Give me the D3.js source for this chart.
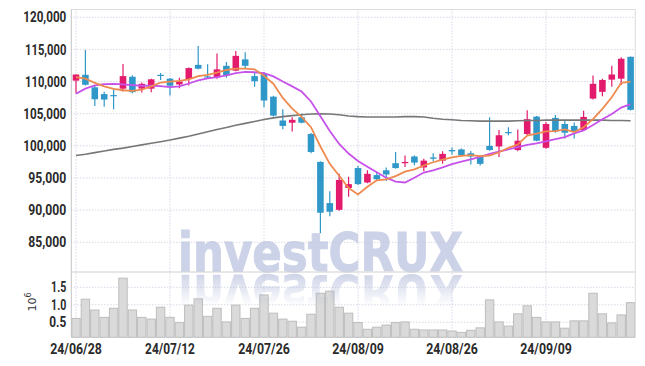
<!DOCTYPE html>
<html>
<head>
<meta charset="utf-8">
<style>
    body { margin: 0; background: #fff; }
    .lbl { font-family: "Roboto", "DejaVu Sans", sans-serif; font-weight: bold; fill: #2a2a2a; }
</style>
</head>
<body>
<div id="vis"></div>

<script src="https://d3js.org/d3.v7.min.js"></script>

<script>
    // trading days
    const dates = ["24/06/28",
        "24/07/01","24/07/02","24/07/03","24/07/04","24/07/05",
        "24/07/08","24/07/09","24/07/10","24/07/11","24/07/12",
        "24/07/15","24/07/16","24/07/17","24/07/18","24/07/19",
        "24/07/22","24/07/23","24/07/24","24/07/25","24/07/26",
        "24/07/29","24/07/30","24/07/31","24/08/01","24/08/02",
        "24/08/05","24/08/06","24/08/07","24/08/08","24/08/09",
        "24/08/12","24/08/13","24/08/14","24/08/16",
        "24/08/19","24/08/20","24/08/21","24/08/22","24/08/23",
        "24/08/26","24/08/27","24/08/28","24/08/29","24/08/30",
        "24/09/02","24/09/03","24/09/04","24/09/05","24/09/06",
        "24/09/09","24/09/10","24/09/11","24/09/12","24/09/13",
        "24/09/19","24/09/20",
        "24/09/23","24/09/24","24/09/25"];
    const tickDates = ["24/06/28","24/07/12","24/07/26","24/08/09","24/08/26","24/09/09"];
    const priceTicks = [85000, 90000, 95000, 100000, 105000, 110000, 115000, 120000];
    const volTicks = [0.5, 1.0, 1.5];

    const open = [110150,111050,109100,108050,107900,108900,110750,108900,108900,111050,
        110450,109550,110400,112600,110800,110650,112450,111700,113450,110850,
        111250,107650,103950,103600,104450,101850,97500,91100,90050,93450,
        96550,94300,95450,96200,97300,97300,98350,96650,98200,97700,
        99350,99450,98850,98450,100000,99900,102150,99350,101850,104550,
        99700,104350,103400,103100,102450,107350,108400,110300,110450,113850];
    const high = [111100,114900,109300,108400,108800,112750,111000,109850,110450,111350,
        110550,110600,112200,115550,112700,114350,113050,114750,114550,111400,
        111500,107800,105700,104450,105050,102000,97600,92950,95650,95200,
        96900,96200,95950,96650,99050,98500,98500,98000,98850,99150,
        99750,99600,99200,98500,104450,102450,102900,102550,105550,104650,
        103700,104800,103900,103650,105450,110950,110450,112450,113800,113900];
    const low = [108200,109400,106200,106100,105700,108450,108200,108300,108350,110250,
        107850,108950,109400,111900,110550,110450,110600,111600,112000,109200,
        106000,104550,102600,102250,103500,98850,86400,89050,89900,92100,
        93900,94200,94600,94550,96450,96700,97000,96050,97600,97200,
        98600,98400,97100,96950,99250,98250,101650,99150,101700,100700,
        99550,102050,101150,101150,102300,107200,107700,109200,109450,105500];
    const close = [111100,109500,107250,107200,107800,110850,108350,109650,110350,110950,
        109350,110000,112100,112000,110700,111900,110950,114000,112450,110050,
        107050,104700,103100,104050,103600,99050,89600,89750,94700,94050,
        94050,95650,94800,95550,96550,97500,97400,97700,98000,98750,
        99150,98550,98350,97200,99350,101650,102050,100800,104150,100800,
        103400,102250,102050,102300,104500,109650,110250,111100,113550,105600];
    // volume in millions
    const volume = [0.61,1.16,0.85,0.64,0.90,1.76,0.85,0.64,0.59,0.93,
        0.64,0.49,0.99,1.17,0.67,0.90,0.51,0.99,0.61,0.90,
        1.28,0.76,0.59,0.53,0.36,0.73,1.33,1.39,0.93,0.76,
        0.49,0.30,0.36,0.42,0.49,0.51,0.30,0.28,0.28,0.28,
        0.25,0.21,0.27,0.34,1.14,0.51,0.39,0.74,0.97,0.64,
        0.51,0.51,0.33,0.54,0.54,1.33,0.74,0.48,0.71,1.06];
    const ma5 = [110700,110450,109800,109250,108850,108650,108550,108750,109250,109850,
        110000,110100,110350,110850,111050,111400,111800,112000,112000,111900,
        110900,109650,107450,105800,104500,102900,99900,97200,95350,93450,
        92450,93650,94650,94800,95300,96000,96350,96950,97450,97850,
        98200,98450,98550,98400,98500,99000,99700,100200,101600,101900,
        102250,102300,102550,102150,102900,104150,105750,107550,109800,110000];
    const ma10 = [108100,108900,109400,109600,109650,109550,109450,109350,109350,109300,
        109150,109250,109700,110200,110500,110700,110950,111300,111500,111450,
        111300,110800,110000,109250,108450,106900,104600,102300,100300,98800,
        97650,96750,95900,95050,94450,94300,95050,95850,96200,96650,
        97150,97550,97900,98300,98750,99100,99450,99800,100150,100400,
        100700,101050,101350,101950,102400,103250,104150,104950,105950,106500];
    const maLong = [98500,98700,98950,99200,99450,99650,99900,100150,100400,100650,
        100900,101200,101500,101850,102200,102550,102850,103200,103500,103800,
        104100,104350,104550,104700,104850,104950,105000,104950,104850,104650,
        104550,104500,104500,104500,104500,104550,104550,104500,104300,104150,
        104050,103950,103900,103850,103850,103850,103850,103900,103950,103950,
        104000,104000,104000,104000,104000,104000,104000,103950,103950,103900];

    const up = "#e31b6d", down = "#2f98c9";

    // layout
    let width = 645, height = 366;
    let pLeft = 71.3, pRight = 635.3, pTop = 9.5, pSplit = 272, pBottom = 337.3;

    let svg = d3.select("#vis").append("svg")
        .attr("width", width)
        .attr("height", height);

    let x = d3.scaleBand().domain(dates).range([pLeft, pRight]).padding(0);
    let cx = d => x(d) + x.bandwidth() / 2;
    let y = d3.scaleLinear().domain([80380, 121210]).range([pSplit, pTop]);
    let yv = d3.scaleLinear().domain([0.07, 1.937]).range([pBottom, pSplit]);

    // squeeze labels to look like the narrow font of the original
    function narrow(sel) {
        sel.attr("textLength", function () {
            let w = 0;
            for (const ch of this.textContent) {
                w += ch === "1" ? 5.0 : ch === "," ? 4.0 : ch === "." ? 3.4 : ch === "/" ? 5.4 : 6.8;
            }
            return w;
        }).attr("lengthAdjust", "spacingAndGlyphs");
    }

    // watermark
    let wmFont = "DejaVu Sans, sans-serif";
    svg.append("text")
        .attr("x", 178).attr("y", 271)
        .attr("textLength", 285).attr("lengthAdjust", "spacingAndGlyphs")
        .style("font-family", wmFont)
        .style("font-weight", "bold")
        .style("font-size", "54px")
        .attr("fill", "#ccd2e7")
        .attr("stroke", "#ccd2e7").attr("stroke-width", 1)
        .text("investCRUX");

    // grid
    let grid = svg.append("g")
        .attr("stroke", "#c3c6da")
        .attr("stroke-dasharray", "1,2");
    grid.selectAll(".hp").data(priceTicks).enter().append("line")
        .attr("x1", pLeft).attr("x2", pRight)
        .attr("y1", d => y(d)).attr("y2", d => y(d));
    grid.selectAll(".hv").data(volTicks).enter().append("line")
        .attr("x1", pLeft).attr("x2", pRight)
        .attr("y1", d => yv(d)).attr("y2", d => yv(d));
    grid.selectAll(".vx").data(tickDates).enter().append("line")
        .attr("x1", d => cx(d)).attr("x2", d => cx(d))
        .attr("y1", pTop).attr("y2", pBottom);

    // volume bars
    svg.append("g").selectAll("rect")
        .data(volume)
        .enter()
        .append("rect")
        .attr("x", (d, i) => x(dates[i]) + 0.5)
        .attr("width", x.bandwidth() - 1)
        .attr("y", d => yv(d))
        .attr("height", d => pBottom - yv(d))
        .attr("fill", "#dadada")
        .attr("stroke", "#bdbdbd")
        .attr("stroke-width", 1);

    // watermark reflection, fading out
    let defs = svg.append("defs");
    let grad = defs.append("linearGradient").attr("id", "fade")
        .attr("gradientUnits", "userSpaceOnUse")
        .attr("x1", 0).attr("y1", pSplit).attr("x2", 0).attr("y2", 306);
    grad.append("stop").attr("offset", 0).attr("stop-color", "#fff").attr("stop-opacity", 0.75);
    grad.append("stop").attr("offset", 1).attr("stop-color", "#fff").attr("stop-opacity", 0);
    defs.append("mask").attr("id", "fadeMask")
        .attr("maskUnits", "userSpaceOnUse")
        .attr("x", 0).attr("y", 0).attr("width", width).attr("height", height)
        .append("rect").attr("x", 0).attr("y", pSplit).attr("width", width).attr("height", 40)
        .attr("fill", "url(#fade)");
    svg.append("g").attr("mask", "url(#fadeMask)")
        .append("text")
        .attr("transform", "translate(0," + (2 * pSplit + 2) + ") scale(1,-1)")
        .attr("x", 178).attr("y", 271)
        .attr("textLength", 285).attr("lengthAdjust", "spacingAndGlyphs")
        .style("font-family", wmFont)
        .style("font-weight", "bold")
        .style("font-size", "54px")
        .attr("fill", "#a9b3d6")
        .attr("fill-opacity", 0.8)
        .text("investCRUX");

    // frame
    let frame = svg.append("g").attr("fill", "none");
    frame.append("line").attr("x1", pLeft).attr("x2", pRight).attr("y1", pTop).attr("y2", pTop).attr("stroke", "#dddddd");
    frame.append("line").attr("x1", pRight).attr("x2", pRight).attr("y1", pTop).attr("y2", pBottom).attr("stroke", "#dddddd");
    frame.append("line").attr("x1", pLeft).attr("x2", pRight).attr("y1", pSplit).attr("y2", pSplit).attr("stroke", "#d0d0d0");
    frame.append("line").attr("x1", pLeft).attr("x2", pLeft).attr("y1", pTop).attr("y2", pBottom).attr("stroke", "#c4c4c4");

    // candles
    let bw = x.bandwidth() * 0.7;
    let candles = svg.append("g").selectAll("g")
        .data(dates)
        .enter()
        .append("g")
        .attr("stroke", (d, i) => close[i] >= open[i] ? up : down)
        .attr("fill", (d, i) => close[i] >= open[i] ? up : down);
    candles.append("line")
        .attr("x1", d => cx(d)).attr("x2", d => cx(d))
        .attr("y1", (d, i) => y(high[i]))
        .attr("y2", (d, i) => y(low[i]))
        .attr("stroke-width", 1.2);
    candles.append("rect")
        .attr("x", d => cx(d) - bw / 2)
        .attr("width", bw)
        .attr("y", (d, i) => y(Math.max(open[i], close[i])))
        .attr("height", (d, i) => Math.max(1.2, Math.abs(y(open[i]) - y(close[i]))))
        .attr("stroke", "none");

    // moving averages
    let line = d3.line().x((d, i) => cx(dates[i])).y(d => y(d));
    svg.append("path").datum(maLong).attr("d", line)
        .attr("fill", "none").attr("stroke", "#777").attr("stroke-width", 1.6);
    svg.append("path").datum(ma10).attr("d", line)
        .attr("fill", "none").attr("stroke", "#c652ea").attr("stroke-width", 1.8);
    svg.append("path").datum(ma5).attr("d", line)
        .attr("fill", "none").attr("stroke", "#ef8a4e").attr("stroke-width", 1.8);

    // price axis
    let yAxis = d3.axisLeft(y).tickValues(priceTicks).tickFormat(d3.format(",")).tickSize(0).tickPadding(5);
    svg.append("g").attr("transform", "translate(" + pLeft + ",0)").call(yAxis)
        .call(g => g.select(".domain").remove())
        .selectAll("text").attr("class", "lbl").style("font-size", "14.5px").call(narrow);

    // volume axis
    let vAxis = d3.axisLeft(yv).tickValues(volTicks).tickFormat(d3.format(".1f")).tickSize(0).tickPadding(5);
    svg.append("g").attr("transform", "translate(" + pLeft + ",0)").call(vAxis)
        .call(g => g.select(".domain").remove())
        .selectAll("text").attr("class", "lbl").style("font-size", "14.5px").call(narrow);

    let unit = svg.append("text")
        .attr("transform", "translate(36,302) rotate(-90)")
        .style("text-anchor", "middle")
        .style("font-family", "DejaVu Sans, sans-serif")
        .style("font-size", "11px")
        .attr("fill", "#333");
    unit.append("tspan").text("10");
    unit.append("tspan").attr("dy", -5).style("font-size", "8px").text("6");

    // date axis
    let xAxis = d3.axisBottom(x).tickValues(tickDates).tickSize(0).tickPadding(6);
    svg.append("g").attr("transform", "translate(0," + pBottom + ")").call(xAxis)
        .call(g => g.select(".domain").remove())
        .selectAll("text").attr("class", "lbl").style("font-size", "14.5px").call(narrow);
</script>
</body>
</html>
